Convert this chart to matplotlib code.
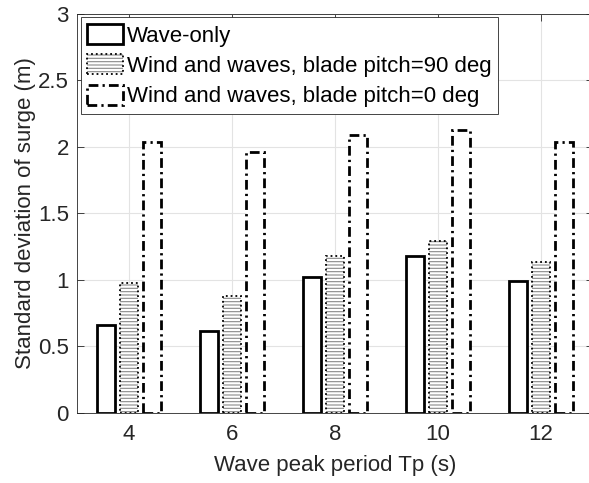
import matplotlib
matplotlib.use("Agg")
import matplotlib.pyplot as plt
import numpy as np
from matplotlib.patches import Patch
from matplotlib.legend_handler import HandlerTuple

periods = [4, 6, 8, 10, 12]
wave_only = [0.66, 0.612, 1.021, 1.181, 0.993]
pitch90 = [0.976, 0.88, 1.177, 1.29, 1.13]
pitch0 = [2.04, 1.962, 2.087, 2.125, 2.035]
labels = ["Wave-only", "Wind and waves, blade pitch=90 deg", "Wind and waves, blade pitch=0 deg"]

plt.rcParams['font.family'] = ['Liberation Sans', 'DejaVu Sans']
plt.rcParams['hatch.linewidth'] = 0.8

fig = plt.figure(figsize=(5.89, 4.83), dpi=100)
ax = fig.add_axes([0.1312, 0.1456, 0.875, 0.8255])

x = np.array(periods, dtype=float)
off = 0.444
w = 0.356
axc = '#262626'
dashdot = (0, (3.5, 1.5, 0.8, 1.5))

ax.bar(x - off, wave_only, w, facecolor='white', edgecolor='black', linewidth=2.0, zorder=3)
ax.bar(x, pitch90, w, facecolor='white', edgecolor='#8a8a8a', linewidth=0, hatch='-----', zorder=3)
ax.bar(x, pitch90, w, facecolor='none', edgecolor='black', linewidth=1.3, linestyle=':', zorder=4)
ax.bar(x + off, pitch0, w, facecolor='white', edgecolor='black', linewidth=2.0, linestyle=dashdot, zorder=3)

ax.set_xlim(3, 13)
ax.set_ylim(0, 3)
ax.set_xticks(periods)
ax.set_yticks([0, 0.5, 1, 1.5, 2, 2.5, 3])
ax.set_yticklabels(['0', '0.5', '1', '1.5', '2', '2.5', '3'])
ax.grid(True, color='#e3e3e3', linewidth=0.8, zorder=0)
ax.set_axisbelow(True)
ax.tick_params(direction='in', length=5, width=0.6, colors=axc, labelsize=16,
               top=True, right=True)
ax.tick_params(axis='y', pad=6)
ax.tick_params(axis='x', pad=8)
for s in ax.spines.values():
    s.set_color(axc)
    s.set_linewidth(0.6)

ax.set_xlabel('Wave peak period Tp (s)', fontsize=16, color=axc, labelpad=7)
ax.set_ylabel('Standard deviation of surge (m)', fontsize=16, color=axc, labelpad=1.5)

h1 = Patch(facecolor='white', edgecolor='black', linewidth=2.0)
h2a = Patch(facecolor='white', edgecolor='#8a8a8a', linewidth=0, hatch='-----')
h2b = Patch(facecolor='none', edgecolor='black', linewidth=1.3, linestyle=':')
h3 = Patch(facecolor='white', edgecolor='black', linewidth=2.0, linestyle=dashdot)
leg = ax.legend([h1, (h2a, h2b), h3], labels, loc='upper left', fontsize=16,
                handler_map={tuple: HandlerTuple(ndivide=1, pad=0)},
                fancybox=False, framealpha=1, edgecolor=axc,
                borderaxespad=0.15, handlelength=1.6, handleheight=1.0,
                handletextpad=0.18, labelspacing=0.35, borderpad=0.3)
leg.get_frame().set_linewidth(0.6)
for t in leg.get_texts():
    t.set_color('black')

fig.savefig('out.png', dpi=100)
